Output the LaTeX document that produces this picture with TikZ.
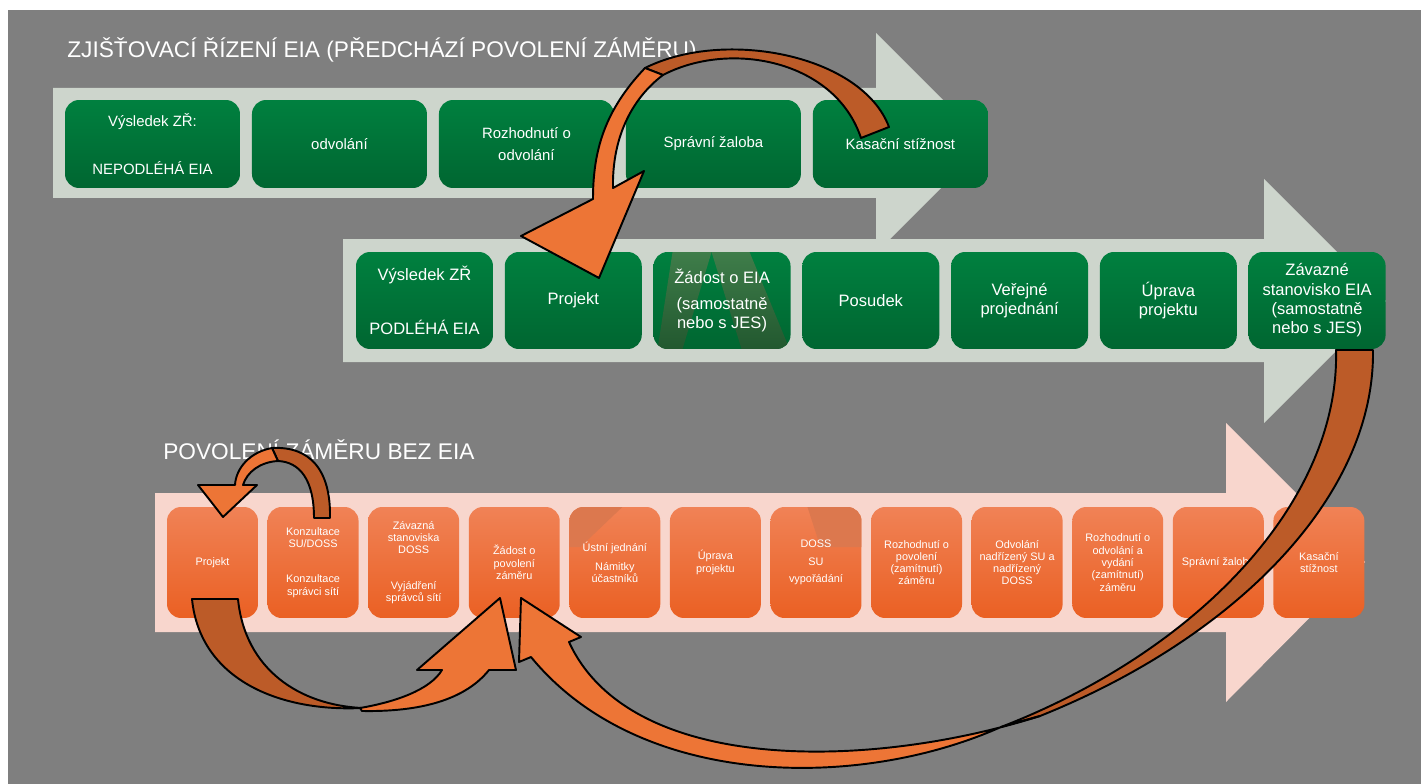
\documentclass[tikz,border=0pt]{standalone}
\usepackage{fontspec}
\setmainfont{Liberation Sans}
\usetikzlibrary{positioning}
\definecolor{bg}{HTML}{7F7F7F}
\definecolor{lightarrow}{HTML}{CDD5CC}
\definecolor{pinkarrow}{HTML}{F8D6CD}
\definecolor{grtop}{HTML}{00803F}
\definecolor{grbot}{HTML}{006631}
\definecolor{ortop}{HTML}{F08256}
\definecolor{orbot}{HTML}{EA6023}
\definecolor{bend}{HTML}{ED7536}
\definecolor{bendback}{HTML}{BC5B28}
\definecolor{stripetop}{HTML}{3F7D4A}
\definecolor{stripebot}{HTML}{22582F}
\definecolor{patch}{HTML}{DC784E}

\begin{document}
\begin{tikzpicture}[x=0.02cm, y=-0.02cm,
	gbox/.style={rectangle, rounded corners=0.28cm, inner sep=0pt, outer sep=0pt,
		top color=grtop, bottom color=grbot, text=white, align=center},
	zr/.style={gbox, minimum width=3.5cm, minimum height=1.76cm, font=\fontsize{8.5}{13}\selectfont},
	eia/.style={gbox, minimum width=2.74cm, minimum height=1.94cm, font=\fontsize{9.4}{11}\selectfont},
	obox/.style={gbox, top color=ortop, bottom color=orbot,
		minimum width=1.82cm, minimum height=2.22cm, font=\fontsize{6.2}{7}\selectfont},
	ttl/.style={anchor=base west, text=white, inner sep=0pt, font=\fontsize{12.9}{15}\selectfont},
	flow/.style={fill=bend, draw=black, line width=1.1pt, line join=round},
	flowback/.style={flow, fill=bendback}]
	\useasboundingbox (0,0) rectangle (1421,784);
	\fill[white] (0,0) rectangle (1421,784);
	\fill[bg] (8,10) rectangle (1421,784);

	\fill[lightarrow] (53,88) -- (876,88) -- (876,33) -- (986,143) -- (876,253) -- (876,198) -- (53,198) -- cycle;
	\fill[lightarrow] (343,239) -- (1264,239) -- (1264,179) -- (1386,301) -- (1264,423) -- (1264,362) -- (343,362) -- cycle;
	\fill[pinkarrow] (155,493) -- (1226,493) -- (1226,423) -- (1365,562) -- (1226,702) -- (1226,632) -- (155,632) -- cycle;

	\node[ttl] (zrtitle) at (67,58) {ZJIŠŤOVACÍ ŘÍZENÍ EIA (PŘEDCHÁZÍ POVOLENÍ ZÁMĚRU)};
	\node[ttl] (pztitle) at (163,459) {POVOLENÍ ZÁMĚRU BEZ EIA};

	\node[zr] (zr1) at (152.5,144) {Výsledek ZŘ:\\[14pt]NEPODLÉHÁ EIA};
	\node[zr, right=0.24cm of zr1] (zr2) {odvolání};
	\node[zr, right=0.24cm of zr2] (zr3) {Rozhodnutí o\\odvolání};
	\node[zr, right=0.24cm of zr3] (zr4) {Správní žaloba};
	\node[zr, right=0.24cm of zr4] (zr5) {Kasační stížnost};

	\node[eia] (eia1) at (424.5,300.5) {Výsledek ZŘ\\[19.6pt]PODLÉHÁ EIA};
	\node[eia, right=0.236cm of eia1] (eia2) {Projekt};
	\node[eia, right=0.236cm of eia2, path picture={
		\path[sharp corners, top color=stripetop, bottom color=stripebot]
			([xshift=0.38cm]path picture bounding box.north west)
			-- ([xshift=1.16cm]path picture bounding box.north west)
			-- ([xshift=0.58cm]path picture bounding box.south west)
			-- ([xshift=0.08cm]path picture bounding box.south west) -- cycle;
		\path[sharp corners, top color=stripetop, bottom color=stripebot]
			([xshift=1.16cm]path picture bounding box.north west)
			-- ([xshift=1.92cm]path picture bounding box.north west)
			-- ([xshift=2.72cm]path picture bounding box.south west)
			-- ([xshift=1.76cm]path picture bounding box.south west) -- cycle;}]
		(eia3) {Žádost o EIA\\[3.7pt](samostatně\\nebo s JES)};
	\node[eia, right=0.236cm of eia3] (eia4) {Posudek};
	\node[eia, right=0.236cm of eia4] (eia5) {Veřejné\\projednání};
	\node[eia, right=0.236cm of eia5] (eia6) {Úprava\\projektu};
	\node[eia, right=0.236cm of eia6] (eia7) {Závazné\\stanovisko EIA\\(samostatně\\nebo s JES)};

	\node[obox] (pz1) at (212.5,562.5) {Projekt};
	\node[obox, right=0.192cm of pz1] (pz2) {Konzultace\\SU/DOSS\\[12.8pt]Konzultace\\správci sítí};
	\node[obox, right=0.192cm of pz2] (pz3) {Závazná\\stanoviska\\DOSS\\[13.4pt]Vyjádření\\správců sítí};
	\node[obox, right=0.192cm of pz3] (pz4) {Žádost o\\povolení\\záměru};
	\node[obox, right=0.192cm of pz4, path picture={
		\fill[patch, sharp corners] (path picture bounding box.north west)
			-- ([xshift=1.06cm]path picture bounding box.north west)
			-- ([xshift=0.22cm, yshift=-0.8cm]path picture bounding box.north west)
			-- ([yshift=-0.8cm]path picture bounding box.north west) -- cycle;}]
		(pz5) {Ústní jednání\\[3.8pt]Námitky\\účastníků};
	\node[obox, right=0.192cm of pz5] (pz6) {Úprava\\projektu};
	\node[obox, right=0.192cm of pz6, path picture={
		\fill[patch, sharp corners] ([xshift=0.74cm]path picture bounding box.north west)
			-- (path picture bounding box.north east)
			-- ([yshift=-0.8cm]path picture bounding box.north east)
			-- ([xshift=1.0cm, yshift=-0.8cm]path picture bounding box.north west) -- cycle;}]
		(pz7) {DOSS\\[3pt]SU\\[3pt]vypořádání};
	\node[obox, right=0.192cm of pz7] (pz8) {Rozhodnutí o\\povolení\\(zamítnutí)\\záměru};
	\node[obox, right=0.192cm of pz8] (pz9) {Odvolání\\nadřízený SU a\\nadřízený\\DOSS};
	\node[obox, right=0.192cm of pz9] (pz10) {Rozhodnutí o\\odvolání a\\vydání\\(zamítnutí)\\záměru};
	\node[obox, right=0.192cm of pz10] (pz11) {Správní žaloba};
	\node[obox, right=0.192cm of pz11] (pz12) {Kasační\\stížnost};

	\draw[flowback] (861,138) -- (889,127) .. controls (862,55) and (725,28) .. (645,68)
		-- (663,75) .. controls (730,40) and (835,60) .. (861,138) -- cycle;
	\draw[flow] (645,68) .. controls (605,110) and (593,150) .. (593,199) -- (521,236) -- (599,278)
		-- (644,171) -- (613,188) .. controls (612,140) and (630,100) .. (663,75) -- cycle;

	\draw[flowback] (314,518) -- (330,518) .. controls (331,470) and (310,446) .. (272,448)
		-- (278,461) .. controls (300,462) and (314,480) .. (314,518) -- cycle;
	\draw[flow] (272,448) .. controls (250,452) and (236,468) .. (235,485) -- (198,485) -- (223,517)
		-- (257,485) -- (243,485) .. controls (247,472) and (260,462) .. (278,461) -- cycle;

	\draw[flowback] (192,599) -- (238,599) .. controls (245,670) and (300,705) .. (362,708)
		.. controls (280,712) and (200,680) .. (192,599) -- cycle;
	\draw[flow] (360,708) .. controls (395,702) and (430,690) .. (442,670) -- (417,670) -- (500,598)
		-- (516,670) -- (489,670) .. controls (465,700) and (420,712) .. (362,711) -- cycle;

	\draw[flowback] (1336,350) -- (1373,350) .. controls (1375,500) and (1230,640) .. (1040,716)
		-- (1001,727) .. controls (1200,650) and (1340,500) .. (1336,350) -- cycle;
	\draw[flow] (1001,727) .. controls (860,790) and (640,790) .. (531,657) -- (519,662) -- (521,598)
		-- (581,637) -- (569,642) .. controls (630,775) and (870,770) .. (1040,716) -- cycle;
\end{tikzpicture}
\end{document}
